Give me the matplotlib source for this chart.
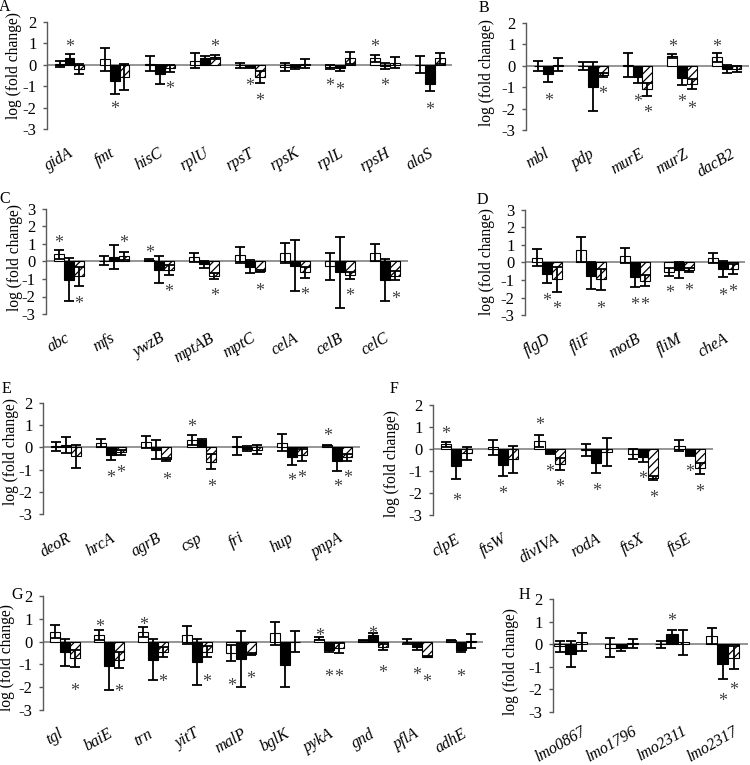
import matplotlib
matplotlib.use("Agg")
import matplotlib.pyplot as plt
import matplotlib.transforms as mtransforms

plt.rcParams['font.family'] = ['Liberation Serif', 'DejaVu Serif']
plt.rcParams['axes.unicode_minus'] = False
plt.rcParams['hatch.linewidth'] = 0.9

# ---------------- data ----------------
genes_A = ['gidA', 'fmt', 'hisC', 'rplU', 'rpsT', 'rpsK', 'rplL', 'rpsH', 'alaS']
white_A = [0.05, 0.25, 0.05, 0.2, -0.02, -0.1, -0.1, 0.3, 0.0]
white_err_A = [0.15, 0.55, 0.35, 0.35, 0.12, 0.2, 0.1, 0.15, 0.4]
black_A = [0.3, -0.75, -0.45, 0.33, -0.1, -0.1, -0.17, -0.05, -0.9]
black_err_A = [0.2, 0.63, 0.45, 0.07, 0.05, 0.08, 0.1, 0.15, 0.32]
hatch_A = [-0.2, -0.57, -0.17, 0.36, -0.57, 0.05, 0.32, 0.1, 0.3]
hatch_err_A = [0.25, 0.62, 0.15, 0.1, 0.28, 0.2, 0.3, 0.25, 0.25]
stars_A = [(0, 1, 1.0), (1, 1, -1.93), (2, 2, -0.96), (3, 2, 0.98), (4, 1, -0.84),
           (4, 2, -1.53), (6, 0, -0.84), (6, 1, -1.0), (7, 0, 1.0), (7, 1, -0.85),
           (8, 1, -1.97)]

genes_B = ['mbl', 'pdp', 'murE', 'murZ', 'dacB2']
white_B = [0.0, 0.0, 0.05, 0.45, 0.4]
white_err_B = [0.23, 0.2, 0.55, 0.1, 0.2]
black_B = [-0.4, -0.97, -0.5, -0.55, -0.15]
black_err_B = [0.35, 1.15, 0.32, 0.33, 0.2]
hatch_B = [0.05, -0.43, -1.1, -0.85, -0.15]
hatch_err_B = [0.3, 0.08, 0.3, 0.25, 0.12]
stars_B = [(0, 1, -1.47), (1, 2, -1.16), (2, 1, -1.55), (2, 2, -2.07), (3, 0, 1.04),
           (3, 1, -1.55), (3, 2, -1.88), (4, 0, 1.04)]

genes_C = ['abc', 'mfs', 'ywzB', 'mptAB', 'mptC', 'celA', 'celB', 'celC']
white_C = [0.4, 0.05, 0.1, 0.23, 0.36, 0.51, -0.28, 0.5]
white_err_C = [0.25, 0.25, 0.05, 0.28, 0.45, 0.57, 0.78, 0.5]
black_C = [-1.03, 0.27, -0.46, -0.15, -0.3, -0.25, -0.62, -1.05]
black_err_C = [1.25, 0.7, 0.78, 0.2, 0.38, 1.45, 2.03, 1.18]
hatch_C = [-0.84, 0.32, -0.5, -0.82, -0.55, -0.62, -0.78, -0.82]
hatch_err_C = [0.55, 0.21, 0.28, 0.18, 0.06, 0.3, 0.2, 0.26]
stars_C = [(0, 0, 1.22), (0, 2, -2.25), (1, 2, 1.22), (2, 0, 0.69), (2, 2, -1.58),
           (3, 2, -1.79), (4, 2, -1.49), (5, 2, -1.71), (6, 2, -1.77), (7, 2, -1.94)]

genes_D = ['flgD', 'fliF', 'motB', 'fliM', 'cheA']
white_D = [0.27, 0.74, 0.38, -0.53, 0.27]
white_err_D = [0.48, 0.7, 0.42, 0.22, 0.3]
black_D = [-0.63, -0.76, -0.82, -0.44, -0.38]
black_err_D = [0.55, 0.78, 0.57, 0.47, 0.47]
hatch_D = [-0.95, -0.95, -1.04, -0.42, -0.36]
hatch_err_D = [0.72, 0.6, 0.3, 0.1, 0.3]
stars_D = [(0, 1, -2.0), (0, 2, -2.45), (1, 2, -2.45), (2, 1, -2.24), (2, 2, -2.24),
           (3, 0, -1.58), (3, 2, -1.44), (4, 1, -1.71), (4, 2, -1.52)]

genes_E = ['deoR', 'hrcA', 'agrB', 'csp', 'fri', 'hup', 'pnpA']
white_E = [0.05, 0.19, 0.25, 0.33, 0.08, 0.22, 0.1]
white_err_E = [0.2, 0.18, 0.28, 0.24, 0.4, 0.38, 0.03]
black_E = [0.1, -0.33, -0.1, 0.35, -0.05, -0.42, -0.6]
black_err_E = [0.35, 0.25, 0.42, 0.05, 0.1, 0.37, 0.45]
hatch_E = [-0.4, -0.22, -0.54, -0.64, -0.1, -0.34, -0.45]
hatch_err_E = [0.52, 0.1, 0.08, 0.33, 0.2, 0.28, 0.15]
stars_E = [(1, 1, -1.23), (1, 2, -1.02), (2, 2, -1.3), (3, 0, 1.08), (3, 2, -1.62),
           (5, 1, -1.38), (5, 2, -1.24), (6, 0, 0.67), (6, 1, -1.62), (6, 2, -1.23)]

genes_F = ['clpE', 'ftsW', 'divIVA', 'rodA', 'ftsX', 'ftsE']
white_F = [0.22, 0.08, 0.38, -0.05, -0.23, 0.15]
white_err_F = [0.11, 0.33, 0.27, 0.28, 0.24, 0.26]
black_F = [-0.76, -0.71, -0.2, -0.64, -0.35, -0.26]
black_err_F = [0.6, 0.53, 0.04, 0.45, 0.22, 0.07]
hatch_F = [-0.2, -0.47, -0.68, -0.14, -1.32, -0.88]
hatch_err_F = [0.3, 0.62, 0.27, 0.65, 0.1, 0.26]
stars_F = [(0, 0, 0.83), (0, 1, -2.2), (1, 1, -1.9), (2, 0, 1.26), (2, 1, -0.91),
           (2, 2, -1.56), (3, 1, -1.74), (4, 1, -1.21), (4, 2, -2.09), (5, 1, -0.91),
           (5, 2, -1.82)]

genes_G = ['tgl', 'baiE', 'trn', 'yitT', 'malP', 'bglK', 'pykA', 'gnd', 'pflA', 'adhE']
white_G = [0.44, 0.29, 0.44, 0.29, -0.5, 0.36, 0.12, 0.06, 0.0, 0.05]
white_err_G = [0.3, 0.2, 0.22, 0.38, 0.36, 0.52, 0.06, 0.02, 0.12, 0.03]
black_G = [-0.47, -1.08, -0.8, -0.9, -0.76, -1.02, -0.39, 0.29, -0.25, -0.35]
black_err_G = [0.6, 1.03, 0.9, 1.02, 1.24, 0.95, 0.07, 0.1, 0.1, 0.1]
hatch_G = [-0.73, -0.8, -0.47, -0.44, -0.54, 0.0, -0.29, -0.22, -0.66, 0.02]
hatch_err_G = [0.38, 0.35, 0.22, 0.24, 0.06, 0.45, 0.21, 0.13, 0.03, 0.3]
stars_G = [(0, 2, -2.03), (1, 0, 0.77), (1, 2, -2.07), (2, 0, 0.87), (2, 2, -1.63),
           (3, 2, -1.63), (4, 0, -1.82), (4, 2, -1.49), (6, 0, 0.38), (6, 1, -1.41),
           (6, 2, -1.41), (7, 1, 0.48), (7, 2, -1.22), (8, 1, -1.34), (8, 2, -1.63),
           (9, 1, -1.41)]

genes_H = ['lmo0867', 'lmo1796', 'lmo2311', 'lmo2317']
white_H = [-0.1, -0.15, 0.0, 0.36]
white_err_H = [0.24, 0.42, 0.15, 0.34]
black_H = [-0.45, -0.15, 0.45, -0.86]
black_err_H = [0.58, 0.13, 0.17, 0.7]
hatch_H = [0.1, 0.05, 0.08, -0.59]
hatch_err_H = [0.38, 0.2, 0.57, 0.49]
stars_H = [(2, 1, 1.19), (3, 1, -2.37), (3, 2, -1.9)]

# ---------------- layout (pixels) ----------------
W, H = 750, 765
fig = plt.figure(figsize=(W / 100, H / 100), dpi=100)

AX_COL = '#595959'
ZERO_COL = '#8c8c8c'
STAR_COL = '#404040'
BW = 0.22


def panel(px, letter, letter_xy, ylab_xy, ylim, genes, wv, we, bv, be, hv, he,
          stars, xleft=0.0, lab_dy=-11.5):
    x0, x1, yt, yb = px
    ax = fig.add_axes([x0 / W, 1 - yb / H, (x1 - x0) / W, (yb - yt) / H])
    n = len(genes)
    xs = [i + 0.5 for i in range(n)]
    ekw = dict(ecolor='black', elinewidth=1.3, capsize=3.5, capthick=1.3)
    ax.axhline(0, color=ZERO_COL, lw=1.3, zorder=1)
    ax.bar([x - BW for x in xs], wv, BW, yerr=we, color='white', edgecolor='black',
           linewidth=0.8, error_kw=ekw, zorder=2)
    ax.bar(xs, bv, BW, yerr=be, color='black', edgecolor='black',
           linewidth=0.8, error_kw=ekw, zorder=2)
    ax.bar([x + BW for x in xs], hv, BW, yerr=he, color='white', edgecolor='black',
           hatch='////', linewidth=0.8, error_kw=ekw, zorder=2)
    for gi, bi, yv in stars:
        ax.annotate('*', xy=(xs[gi] + (bi - 1) * BW, yv), xytext=(0, -6.0),
                    textcoords='offset points', ha='center', va='baseline',
                    fontsize=13, color=STAR_COL, annotation_clip=False)
    ax.set_xlim(xleft, n)
    ax.set_ylim(*ylim)
    ax.set_yticks(range(int(ylim[0]), int(ylim[1]) + 1))
    ax.set_xticks([])
    for s in ['top', 'right', 'bottom']:
        ax.spines[s].set_visible(False)
    ax.spines['left'].set_color(AX_COL)
    ax.spines['left'].set_linewidth(1.0)
    ax.tick_params(axis='y', direction='out', length=3, width=1.0, color=AX_COL,
                   labelsize=12, pad=4.5)
    trans = mtransforms.blended_transform_factory(ax.transData, ax.transAxes)
    for x, g in zip(xs, genes):
        ax.annotate(g, xy=(x, 0), xycoords=trans, xytext=(-7.2, lab_dy),
                    textcoords='offset points', ha='center', va='top',
                    rotation=30, fontsize=11.5, style='italic',
                    annotation_clip=False)
    fig.text(letter_xy[0] / W, 1 - letter_xy[1] / H, letter, ha='center',
             va='center', fontsize=11.5)
    fig.text(ylab_xy[0] / W, 1 - ylab_xy[1] / H, 'log (fold change)', ha='center',
             va='center', rotation=90, fontsize=11.2)
    return ax


panel((47, 452.5, 22, 129), 'A', (5, 7), (14.5, 66), (-3, 2),
      genes_A, white_A, white_err_A, black_A, black_err_A, hatch_A, hatch_err_A, stars_A)
panel((526, 749, 23, 130), 'B', (484, 8), (487, 73), (-3, 2),
      genes_B, white_B, white_err_B, black_B, black_err_B, hatch_B, hatch_err_B, stars_B)
panel((46, 408, 209, 314), 'C', (5, 199), (15, 258), (-3, 3),
      genes_C, white_C, white_err_C, black_C, black_err_C, hatch_C, hatch_err_C, stars_C)
panel((525, 745, 210, 315), 'D', (482, 200), (487, 262), (-3, 3),
      genes_D, white_D, white_err_D, black_D, black_err_D, hatch_D, hatch_err_D, stars_D)
panel((43, 360, 403, 514), 'E', (6, 389), (11, 452), (-3, 2),
      genes_E, white_E, white_err_E, black_E, black_err_E, hatch_E, hatch_err_E, stars_E)
panel((433, 713, 405, 515), 'F', (394, 389), (392, 464), (-3, 2),
      genes_F, white_F, white_err_F, black_F, black_err_F, hatch_F, hatch_err_F, stars_F)
panel((43, 483, 596, 710), 'G', (17, 595), (7, 658), (-3, 2),
      genes_G, white_G, white_err_G, black_G, black_err_G, hatch_G, hatch_err_G, stars_G)
panel((553, 748, 599, 712), 'H', (524, 595), (511, 662), (-3, 2),
      genes_H, white_H, white_err_H, black_H, black_err_H, hatch_H, hatch_err_H, stars_H,
      xleft=0.15, lab_dy=-8.0)

fig.savefig('out.png', dpi=100)
